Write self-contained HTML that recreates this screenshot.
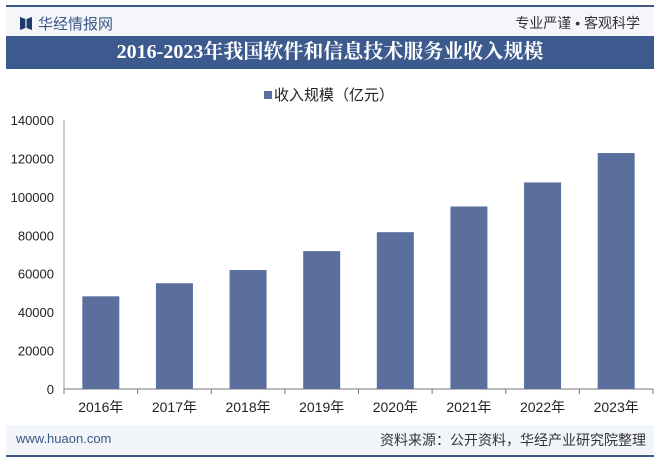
<!DOCTYPE html>
<html><head><meta charset="utf-8"><style>
body{margin:0;width:660px;height:463px;background:#fff;font-family:"Liberation Sans","Noto Sans CJK SC",sans-serif;overflow:hidden;position:relative}
.abs{position:absolute}
</style></head><body>
<div class="abs" style="left:6px;top:5px;width:648px;height:2px;background:#3d5787"></div>
<div class="abs" style="left:6px;top:7px;width:648px;height:29px;background:#f4f6fa"></div>
<div class="abs" style="left:20px;top:13px;font-size:15px;color:#3d5787;display:flex;align-items:center;gap:6px">
<span style="display:inline-block;width:12px;height:13px;background:#1f3a6b;clip-path:polygon(0 0,45% 15%,45% 85%,0 100%,0 0,100% 0,100% 100%,55% 85%,55% 15%,100% 0)"></span>
<span>华经情报网</span></div>
<div class="abs" style="right:20px;top:13px;font-size:14px;color:#333">专业严谨 • 客观科学</div>
<div class="abs" style="left:6px;top:36px;width:648px;height:33px;background:#3d5a8e;color:#fff;font-size:20px;font-weight:bold;text-align:center;line-height:33px;font-family:'Liberation Serif','Noto Serif CJK SC',serif">2016-2023年我国软件和信息技术服务业收入规模</div>
<div class="abs" style="left:6px;top:425px;width:648px;height:29px;background:#f2f5f9"></div>
<div class="abs" style="left:16px;top:431px;font-size:13px;color:#3d5787">www.huaon.com</div>
<div class="abs" style="right:14px;top:430px;font-size:14px;color:#333">资料来源：公开资料，华经产业研究院整理</div>
<div class="abs" style="left:6px;top:455px;width:648px;height:2px;background:#3d5787"></div>
<svg class="abs" style="left:0;top:0" width="660" height="463" id="chart"></svg>
<script>
const categories=["2016年","2017年","2018年","2019年","2020年","2021年","2022年","2023年"];
const values=[48232,55037,61909,71768,81616,94994,107500,122800];
const yTicks=[0,20000,40000,60000,80000,100000,120000,140000];
const legendLabel="收入规模（亿元）";
const svg=document.getElementById('chart');const NS='http://www.w3.org/2000/svg';
const x0=64,x1=653,yb=389,yt=120,ymax=140000;
const y=v=>yb-(yb-yt)*v/ymax;
const step=(x1-x0)/categories.length;
const xc=i=>x0+step*(i+0.5);
function mk(t,a){const e=document.createElementNS(NS,t);for(const k in a)e.setAttribute(k,a[k]);svg.appendChild(e);return e;}
yTicks.forEach(v=>{const t=mk('text',{x:54,y:y(v)+5,'text-anchor':'end','font-size':13,fill:'#222'});t.textContent=v;

});
const ax=mk('line',{x1:x0,x2:x1,y1:yb,y2:yb,stroke:'#777','stroke-width':1});


const ay=mk('line',{x1:x0,x2:x0,y1:yt,y2:yb,stroke:'#999','stroke-width':1});


for(let i=0;i<=categories.length;i++){const tk=mk('line',{x1:x0+step*i,x2:x0+step*i,y1:yb,y2:yb+5,stroke:'#777'});

}
categories.forEach((c,i)=>{
const r=mk('rect',{x:xc(i)-18.5,y:y(values[i]),width:37,height:yb-y(values[i]),fill:'#5b6f9f'});


const t=mk('text',{x:xc(i),y:412,'text-anchor':'middle','font-size':14,fill:'#222'});t.textContent=c;

});
const lr=mk('rect',{x:264,y:91,width:8,height:8,fill:'#5b6f9f'});


const lt=mk('text',{x:274,y:100,'font-size':15,fill:'#222'});lt.textContent=legendLabel;


</script>
</body></html>
